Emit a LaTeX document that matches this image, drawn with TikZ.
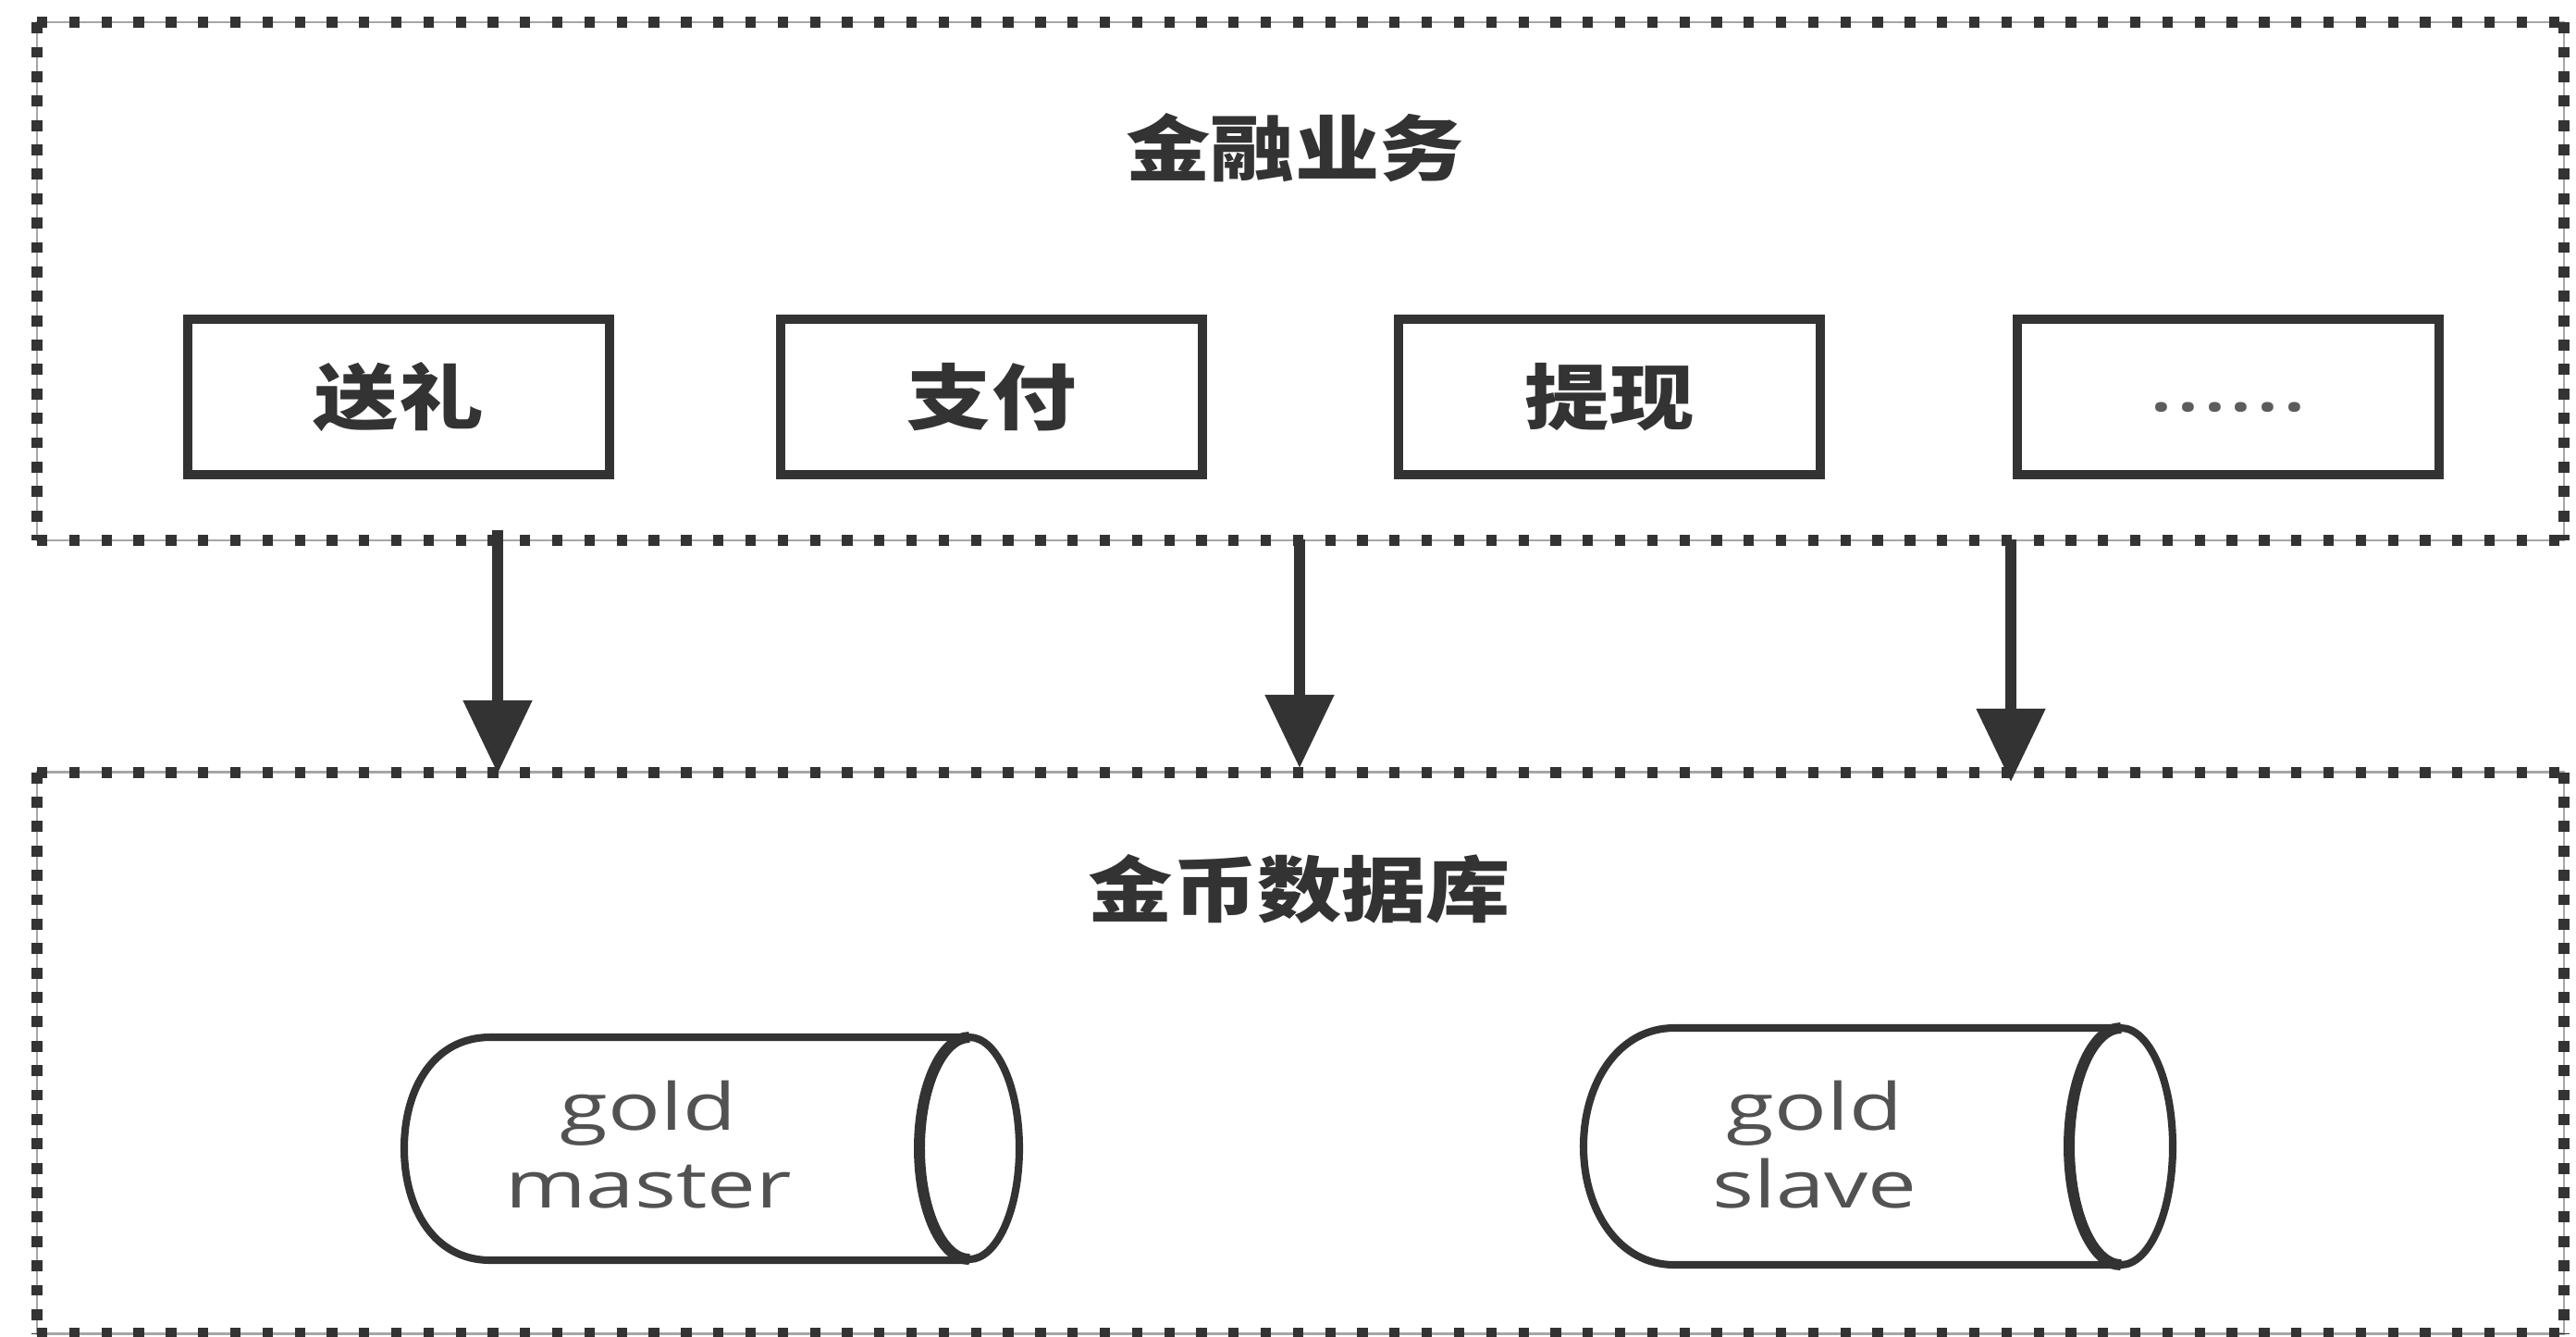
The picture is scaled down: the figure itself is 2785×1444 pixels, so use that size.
\documentclass[tikz,border=0pt]{standalone}
\usepackage{fontspec}
\setmainfont[FakeStretch=1.34]{Open Sans}
\newfontfamily\cjk[FakeStretch=1.18]{Noto Sans CJK SC}
\usetikzlibrary{arrows.meta}
\usetikzlibrary{positioning}
\definecolor{ink}{HTML}{333333}

\begin{document}
\begin{tikzpicture}
		[x=.01cm,y=-.01cm,ink,
		frame/.style={rectangle,minimum width=27.29cm,inner sep=0pt},
		hdots/.style={draw=ink,line width=3.4pt,dash pattern=on 3.2pt off 6.7pt},
		vdots/.style={draw=ink,line width=3.4pt,dash pattern=on 3.4pt off 4.1pt},
		thin line/.style={draw=black!35,line width=.7pt},
		title/.style={font=\cjk\bfseries\fontsize{22}{26}\selectfont,text=ink},
		item/.style={rectangle,draw=ink,line width=3pt,minimum width=4.56cm,minimum height=1.68cm,inner sep=0pt,font=\cjk\bfseries\fontsize{22}{26}\selectfont,text=ink},
		db/.style={draw=ink,line width=2.3pt,fill=white},
		dbfront/.style={draw=ink,line width=3.4pt},
		dbtext/.style={align=center,text=ink!85,font=\fontsize{20}{24}\selectfont},
		link/.style={draw=ink,line width=3.3pt,-{Triangle[length=22.5pt,width=20.5pt]}}]
		\useasboundingbox (0,0) rectangle (2785,1444);
		\fill[white] (0,0) rectangle (2785,1444);

		% the two dotted frames
		\node[frame,minimum height=5.58cm] (fin) at (1406,304) {};
		\node[frame,minimum height=6.05cm] (gold) at (1406,1138) {};
		\foreach \f in {fin,gold} {
			\draw[thin line] (\f.north west) rectangle (\f.south east);
			\draw[hdots] (\f.north west) -- (\f.north east);
			\draw[hdots] (\f.south west) -- (\f.south east);
			\draw[vdots] (\f.north west) -- (\f.south west);
			\draw[vdots] (\f.north east) -- (\f.south east);
		}

		\node[title] (t1) at (1400,160) {金融业务};
		\node[title] (t2) at (1405,961) {金币数据库};

		\node[item] (n1) at (431,429) {送礼};
		\node[item] (n2) at (1072,429) {支付};
		\node[item] (n3) at (1740,429) {提现};
		\node[item,font=\fontsize{23}{26}\selectfont,text=ink!80] (n4) at (2409,429) {\raisebox{-9pt}{......}};

		% arrows between the frames
		\coordinate (a1) at (538,573);
		\coordinate (a2) at (1405,583);
		\coordinate (a3) at (2174,583);
		\coordinate (b1) at (538,836);
		\coordinate (b2) at (1405,830);
		\coordinate (b3) at (2174,845);
		\foreach \from/\to in
		{a1/b1, a2/b2, a3/b3}
		\draw[link] (\from) -- (\to);

		% gold master
		\draw[db] (1048,1121) -- (530,1121) .. controls (470,1121) and (437,1175) .. (437,1241)
			.. controls (437,1307) and (470,1362) .. (530,1362) -- (1048,1362);
		\draw[db] (1048,1241) ellipse [x radius=54,y radius=120];
		\draw[dbfront] (1048,1121) arc [start angle=-90,end angle=-270,x radius=54,y radius=120];
		\node[dbtext] (m1) at (701,1237) {gold\\master};

		% gold slave
		\draw[db] (2293,1111) -- (1810,1111) .. controls (1750,1111) and (1712,1170) .. (1712,1239)
			.. controls (1712,1308) and (1750,1367) .. (1810,1367) -- (2293,1367);
		\draw[db] (2293,1239) ellipse [x radius=56,y radius=128];
		\draw[dbfront] (2293,1111) arc [start angle=-90,end angle=-270,x radius=56,y radius=128];
		\node[dbtext] (m2) at (1962,1237) {gold\\slave};
		\end{tikzpicture}
\end{document}
